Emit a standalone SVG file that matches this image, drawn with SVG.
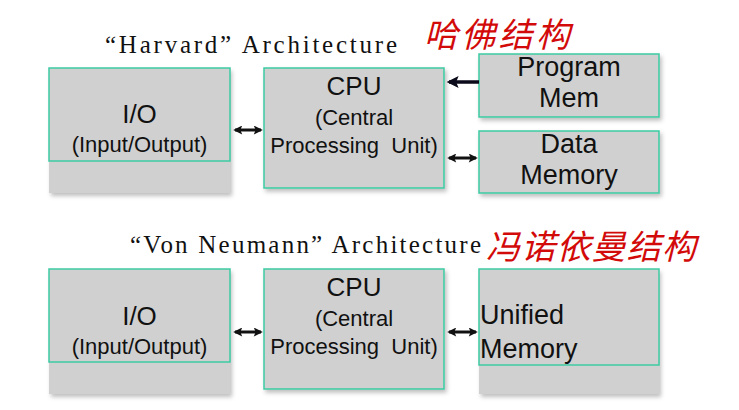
<svg xmlns="http://www.w3.org/2000/svg" width="739" height="410" viewBox="0 0 739 410">
<defs>
<filter id="sh" x="-10%" y="-10%" width="125%" height="130%">
<feDropShadow dx="2" dy="3" stdDeviation="2" flood-color="#000" flood-opacity="0.25"/>
</filter>
<marker id="hd" viewBox="0 0 10 10" refX="8" refY="5" markerWidth="10" markerHeight="9" markerUnits="userSpaceOnUse" orient="auto-start-reverse">
<path d="M0,0 L10,5 L0,10 L2,5 Z" fill="#111"/>
</marker>
<marker id="hb" viewBox="0 0 10 10" refX="8" refY="5" markerWidth="13" markerHeight="12" markerUnits="userSpaceOnUse" orient="auto">
<path d="M0,0 L10,5 L0,10 L2,5 Z" fill="#0a0a1a"/>
</marker>
</defs>
<style>
.fill{fill:#d0d0d0;filter:url(#sh)}
.bd{fill:none;stroke:#3ccba3;stroke-width:1.5}
.box{fill:#d0d0d0;stroke:#3ccba3;stroke-width:1.5;filter:url(#sh)}
.t{font-family:"Liberation Sans",Arial,sans-serif;fill:#111;text-anchor:middle}
.big{font-size:26px}
.sm{font-size:22px}
.mem{font-size:27px}
.title{font-family:"Liberation Serif","Times New Roman",serif;font-size:25px;fill:#111}
.hand{font-family:"Noto Sans CJK SC",sans-serif;font-size:34px;fill:#d20a0a;font-style:italic}
.dbl{stroke:#111;stroke-width:3;marker-start:url(#hd);marker-end:url(#hd)}
.one{stroke:#0a0a1a;stroke-width:3.5;marker-end:url(#hb)}
</style>

<text class="title" x="105" y="53" textLength="292" lengthAdjust="spacing">“Harvard” Architecture</text>
<text class="hand" x="424" y="47" textLength="146" lengthAdjust="spacing">哈佛结构</text>

<g id="h-io">
<rect class="fill" x="49" y="68" width="181" height="125"/>
<rect class="bd" x="49" y="68" width="181" height="93"/>
<text class="t big" x="139.5" y="123">I/O</text>
<text class="t sm" x="139.5" y="152">(Input/Output)</text>
</g>
<g id="h-cpu">
<rect class="box" x="264" y="68" width="180" height="120"/>
<text class="t big" x="354" y="95">CPU</text>
<text class="t sm" x="354" y="125">(Central</text>
<text class="t sm" x="354" y="153" xml:space="preserve">Processing  Unit)</text>
</g>
<g id="h-prog">
<rect class="box" x="479" y="54" width="180" height="63"/>
<text class="t mem" x="569" y="76">Program</text>
<text class="t mem" x="569" y="107">Mem</text>
</g>
<g id="h-data">
<rect class="box" x="479" y="131" width="180" height="62"/>
<text class="t mem" x="569" y="153">Data</text>
<text class="t mem" x="569" y="184">Memory</text>
</g>

<text class="title" x="130" y="253" textLength="351" lengthAdjust="spacing">“Von Neumann” Architecture</text>
<text class="hand" x="486" y="259" textLength="210" lengthAdjust="spacing">冯诺依曼结构</text>

<g id="v-io">
<rect class="fill" x="49" y="269" width="181" height="125"/>
<rect class="bd" x="49" y="269" width="181" height="93"/>
<text class="t big" x="139.5" y="325">I/O</text>
<text class="t sm" x="139.5" y="354">(Input/Output)</text>
</g>
<g id="v-cpu">
<rect class="box" x="264" y="269" width="180" height="120"/>
<text class="t big" x="354" y="296">CPU</text>
<text class="t sm" x="354" y="326">(Central</text>
<text class="t sm" x="354" y="354" xml:space="preserve">Processing  Unit)</text>
</g>
<g id="v-mem">
<rect class="fill" x="479" y="269" width="180" height="125"/>
<rect class="bd" x="479" y="269" width="180" height="96"/>
<text class="t mem" x="480" y="324" style="text-anchor:start">Unified</text>
<text class="t mem" x="480" y="358" style="text-anchor:start">Memory</text>
</g>

<g id="connectors" fill="none">
<line class="dbl" x1="235" y1="130" x2="261" y2="130"/>
<line class="one" x1="479" y1="82" x2="449" y2="82"/>
<line class="dbl" x1="449" y1="158" x2="476" y2="158"/>
<line class="dbl" x1="235" y1="332" x2="261" y2="332"/>
<line class="dbl" x1="449" y1="332" x2="476" y2="332"/>
</g>
</svg>
